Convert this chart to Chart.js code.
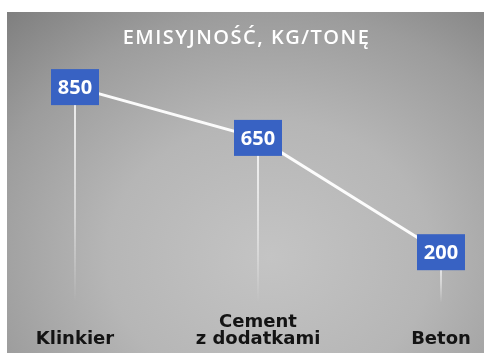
<!DOCTYPE html>
<html>
<head>
<meta charset="utf-8">
<script src="https://cdn.jsdelivr.net/npm/chart.js@4.4.1/dist/chart.umd.min.js"></script>
<style>
  html, body { margin: 0; padding: 0; background: #fff; }
  #wrap {
    position: absolute; left: 7px; top: 12px; width: 477px; height: 341px;
    background: radial-gradient(ellipse 85% 100% at 55% 72%, #c4c4c4 0%, #b6b6b6 40%, #9c9c9c 72%, #7b7b7b 100%);
  }
</style>
</head>
<body>
<div id="wrap"><canvas id="emisjaChart" width="477" height="341"></canvas></div>
<script>
// dane z wykresu
const categories = ['Klinkier', ['Cement', 'z dodatkami'], 'Beton'];
const values = [850, 650, 200];
const yTicks = [0, 1000]; // zakres osi Y (ukryta)
const chartTitle = 'EMISYJNOŚĆ, KG/TONĘ';

let ctx = document.getElementById('emisjaChart');

// tytuł z lekkim rozstrzeleniem liter
const titlePlugin = {
  id: 'spacedTitle',
  afterDraw(chart) {
    let c = chart.ctx;
    c.save();
    c.font = '600 20px "Open Sans"';
    c.letterSpacing = '1.5px';
    c.fillStyle = '#ffffff';
    c.textAlign = 'center';
    c.textBaseline = 'middle';
    c.fillText(chartTitle, chart.width / 2 + 1, 26);
    c.restore();
  }
};

// pionowe linie od punktu w dół
const dropLines = {
  id: 'dropLines',
  beforeDatasetsDraw(chart) {
    let c = chart.ctx;
    let bottom = chart.chartArea.bottom;
    chart.getDatasetMeta(0).data.forEach(pt => {
      let g = c.createLinearGradient(0, pt.y, 0, bottom);
      g.addColorStop(0, 'rgba(255,255,255,0.85)');
      g.addColorStop(0.6, 'rgba(255,255,255,0.45)');
      g.addColorStop(1, 'rgba(255,255,255,0)');
      c.save();
      c.strokeStyle = g;
      c.lineWidth = 2;
      c.beginPath();
      c.moveTo(pt.x, pt.y);
      c.lineTo(pt.x, bottom);
      c.stroke();
      c.restore();
    });
  }
};

// niebieskie etykiety z wartościami
const valueBoxes = {
  id: 'valueBoxes',
  afterDatasetsDraw(chart) {
    let c = chart.ctx;
    chart.getDatasetMeta(0).data.forEach((pt, i) => {
      c.save();
      c.fillStyle = '#3862c3';
      c.fillRect(pt.x - 24, pt.y - 18, 48, 36);
      c.fillStyle = '#ffffff';
      c.font = 'bold 20px "Open Sans"';
      c.textAlign = 'center';
      c.textBaseline = 'middle';
      c.fillText(String(values[i]), pt.x, pt.y + 1);
      c.restore();
    });
  }
};

let lineChart = new Chart(ctx, {
  type: 'line',
  data: {
    labels: categories,
    datasets: [{
      data: values,
      borderColor: 'rgba(255,255,255,0.95)',
      borderWidth: 3,
      pointRadius: 0,
      tension: 0
    }]
  },
  options: {
    responsive: false,
    animation: false,
    layout: {
      padding: { top: 37, left: 68, right: 43, bottom: 0 }
    },
    plugins: {
      legend: { display: false },
      tooltip: { enabled: false }
    },
    scales: {
      x: {
        offset: false,
        grid: { display: false, drawTicks: false },
        border: { display: false },
        afterFit(scale) {
          scale.height = 50;
          // bez dodatkowego marginesu na etykiety skrajne
          scale.paddingLeft = 0;
          scale.paddingRight = 0;
        },
        ticks: {
          color: '#141414',
          padding: 19,
          crossAlign: 'far',
          maxRotation: 0,
          font: { family: 'DejaVu Sans', weight: 'bold', size: 18, lineHeight: 0.95 }
        }
      },
      y: {
        display: false,
        min: yTicks[0],
        max: yTicks[1]
      }
    }
  },
  plugins: [titlePlugin, dropLines, valueBoxes]
});
</script>
</body>
</html>
